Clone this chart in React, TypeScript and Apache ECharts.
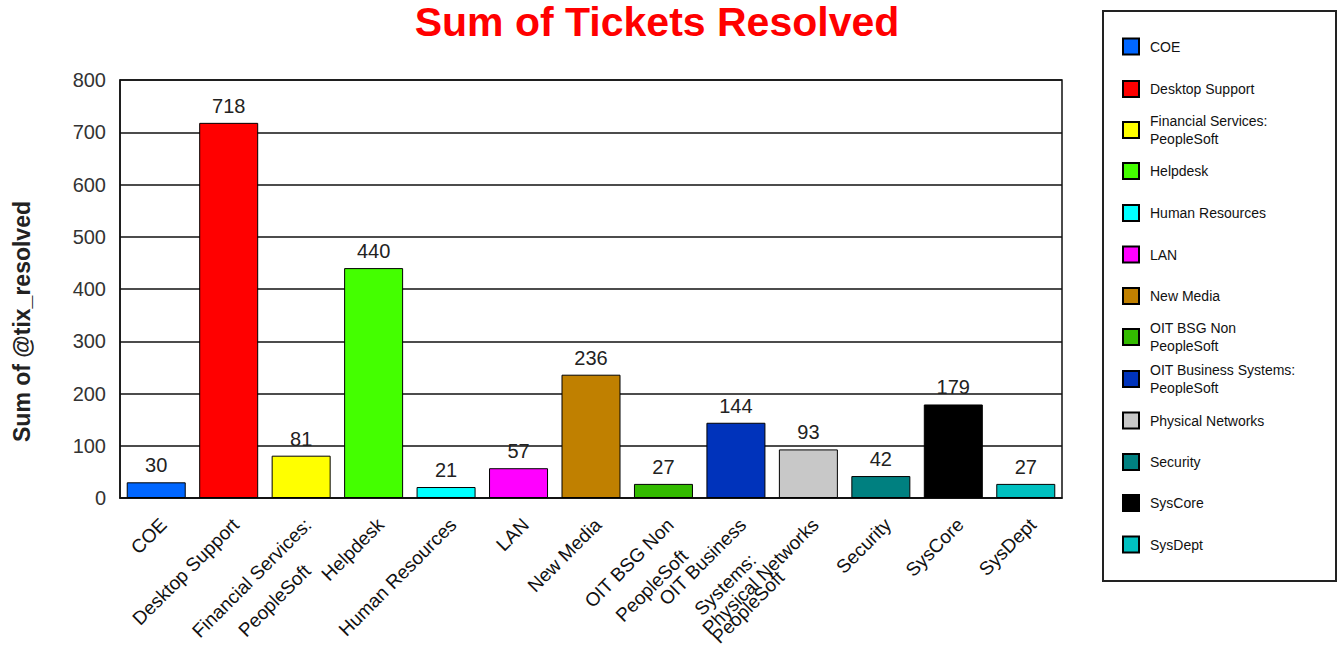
import React, { useEffect, useRef } from "react";
import * as echarts from "echarts";

const categories = [
  "COE",
  "Desktop Support",
  "Financial Services: PeopleSoft",
  "Helpdesk",
  "Human Resources",
  "LAN",
  "New Media",
  "OIT BSG Non PeopleSoft",
  "OIT Business Systems: PeopleSoft",
  "Physical Networks",
  "Security",
  "SysCore",
  "SysDept",
];
const axisLabels = [
  "COE",
  "Desktop Support",
  "Financial Services:\nPeopleSoft",
  "Helpdesk",
  "Human Resources",
  "LAN",
  "New Media",
  "OIT BSG Non\nPeopleSoft",
  "OIT Business\nSystems:\nPeopleSoft",
  "Physical Networks",
  "Security",
  "SysCore",
  "SysDept",
];
const legendLabels = [
  "COE",
  "Desktop Support",
  "Financial Services:\nPeopleSoft",
  "Helpdesk",
  "Human Resources",
  "LAN",
  "New Media",
  "OIT BSG Non\nPeopleSoft",
  "OIT Business Systems:\nPeopleSoft",
  "Physical Networks",
  "Security",
  "SysCore",
  "SysDept",
];
const values = [30, 718, 81, 440, 21, 57, 236, 27, 144, 93, 42, 179, 27];
const colors = [
  "#0066FF",
  "#FF0000",
  "#FFFF00",
  "#44FF00",
  "#00FFFF",
  "#FF00FF",
  "#C08000",
  "#33BB00",
  "#0033BB",
  "#C8C8C8",
  "#008080",
  "#000000",
  "#00C0C0",
];
const yTicks = [0, 100, 200, 300, 400, 500, 600, 700, 800];

const FONT = "Arial, 'Liberation Sans', sans-serif";
const XFONT_SIZE = 19;
const XLINE = 32;

function measure(text: string, size: number): number {
  const c = document.createElement("canvas").getContext("2d");
  if (!c) return text.length * size * 0.5;
  c.font = `${size}px ${FONT}`;
  return Math.max(...text.split("\n").map((l) => c.measureText(l).width));
}

export default function App() {
  const ref = useRef<HTMLDivElement>(null);
  useEffect(() => {
    if (!ref.current) return;
    const chart = echarts.init(ref.current, undefined, { renderer: "svg" });

    const series = categories.map((name, i) => ({
      type: "bar",
      name,
      data: values.map((v, j) => (j === i ? v : null)),
      barWidth: 59,
      barGap: "-100%",
      itemStyle: { color: colors[i], borderColor: "#000", borderWidth: 1 },
      label: {
        show: true,
        position: "top",
        distance: 7,
        fontFamily: FONT,
        fontSize: 20,
        color: "#222",
      },
    }));

    const legendCenters = [46.5, 89, 130, 171, 213, 254.5, 296, 337, 379, 420.5, 462, 503, 544.5];
    const legends = categories.map((name, i) => {
      const lines = legendLabels[i].split("\n").length;
      const h = Math.max(16, lines * 18);
      return {
        data: [name],
        orient: "vertical",
        left: 1122,
        top: legendCenters[i] - h / 2,
        padding: 0,
        icon: "rect",
        itemWidth: 16,
        itemHeight: 16,
        selectedMode: false,
        formatter: () => legendLabels[i],
        textStyle: {
          fontFamily: FONT,
          fontSize: 14,
          lineHeight: 18,
          color: "#111",
          padding: [0, 0, 0, 6],
        },
      };
    });

    // each label: lines centred on one another, block's right end near the tick
    const xData = categories.map((name, i) => {
      const w = measure(axisLabels[i], XFONT_SIZE);
      return {
        value: name,
        textStyle: {
          align: "center",
          verticalAlign: "top",
          padding: [0, w + 12, 0, 0],
        },
      };
    });

    chart.setOption({
      animation: false,
      backgroundColor: "#fff",
      title: {
        text: "Sum of Tickets Resolved",
        left: 657,
        textAlign: "center",
        top: 1,
        padding: 0,
        textStyle: { fontFamily: FONT, fontSize: 41, fontWeight: "bold", color: "#FF0000" },
      },
      legend: legends,
      graphic: [
        {
          type: "rect",
          shape: { x: 1103, y: 11, width: 233, height: 570 },
          style: { fill: "none", stroke: "#222", lineWidth: 2 },
          z: 100,
        },
      ],
      grid: {
        left: 120,
        right: 276,
        top: 80,
        bottom: 148,
        show: true,
        borderColor: "#111",
        borderWidth: 1.5,
        containLabel: false,
        outerBoundsMode: "none",
      },
      xAxis: {
        type: "category",
        data: xData,
        axisLine: { lineStyle: { color: "#111", width: 1.5 } },
        axisTick: { show: false },
        axisLabel: {
          interval: 0,
          rotate: 45,
          margin: 8,
          fontFamily: FONT,
          fontSize: XFONT_SIZE,
          color: "#111",
          lineHeight: XLINE,
          formatter: (_v: string, idx: number) => axisLabels[idx],
        },
      },
      yAxis: {
        type: "value",
        min: 0,
        max: 800,
        interval: 100,
        name: "Sum of @tix_resolved",
        nameLocation: "middle",
        nameGap: 87,
        nameTextStyle: {
          fontFamily: FONT,
          fontSize: 23,
          fontWeight: "bold",
          color: "#222",
          padding: [0, 65, 0, 0],
        },
        axisLine: { show: true, lineStyle: { color: "#111", width: 1.5 } },
        axisTick: { show: false },
        splitLine: { show: true, lineStyle: { color: "#111", width: 1.5 } },
        axisLabel: {
          margin: 14,
          fontFamily: FONT,
          fontSize: 20,
          color: "#333",
          formatter: (v: number) => (yTicks.includes(v) ? String(v) : ""),
        },
      },
      series,
    });

    return () => chart.dispose();
  }, []);

  return (
    <div
      ref={ref}
      style={{ position: "fixed", left: 0, top: 0, width: 1338, height: 646, background: "#fff" }}
    />
  );
}
